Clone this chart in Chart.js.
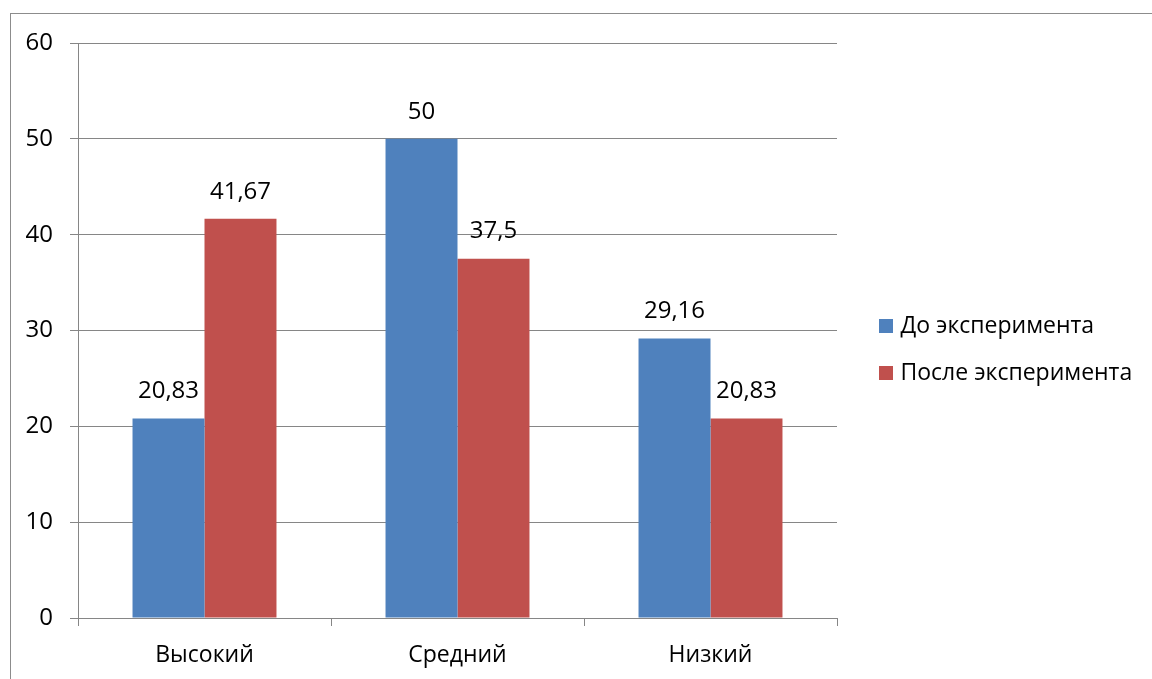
<!DOCTYPE html>
<html>
<head>
<meta charset="utf-8">
<script src="https://cdn.jsdelivr.net/npm/chart.js@4/dist/chart.umd.min.js"></script>
<style>
  html, body { margin: 0; padding: 0; background: #ffffff; }
  #wrap { position: relative; width: 1152px; height: 679px; overflow: hidden; }
  #frame { position: absolute; left: 10px; top: 13px; width: 1200px; height: 700px;
           border-left: 1.5px solid #8c8c8c; border-top: 1.5px solid #8c8c8c; }
  canvas { position: absolute; left: 0; top: 0; }
</style>
</head>
<body>
<div id="wrap">
  <div id="frame"></div>
  <canvas id="c" width="1152" height="679"></canvas>
</div>
<script>
const categories = ['Высокий', 'Средний', 'Низкий'];
const seriesNames = ['До эксперимента', 'После эксперимента'];
const beforeValues = [20.83, 50, 29.16];
const afterValues = [41.67, 37.5, 20.83];
const yTicks = [0, 10, 20, 30, 40, 50, 60];
const seriesColors = ['#4F81BD', '#C0504D'];

const FONT = '"Open Sans", "Noto Sans", sans-serif';
const FS_TEXT = 23;
const FS_NUM = 24;
const GRID = '#868686';
const LEG_PAD = 47 - FS_TEXT;
const BOX = 14;
const PSW = 28;            // legend marker slot width
const MARK_OFF = 18;       // square offset inside slot
const PLOT_RIGHT = 837;

// legend marker images: transparent lead-in, then the coloured square
function makeMarker(color) {
  const w = 2 * (MARK_OFF + BOX - PSW / 2);
  const c = document.createElement('canvas');
  c.width = w; c.height = BOX;
  const g = c.getContext('2d');
  g.fillStyle = color;
  g.fillRect(w - BOX, 0, BOX, BOX);
  return c;
}
const markers = seriesColors.map(makeMarker);

// legend width needed so the plot area keeps its right edge
const mctx = document.createElement('canvas').getContext('2d');
mctx.font = FS_TEXT + 'px ' + FONT;
const maxTextW = Math.max(...seriesNames.map(s => mctx.measureText(s).width));
const legendW = LEG_PAD + PSW + FS_TEXT / 2 + maxTextW + 10;
const padRight = Math.max(0, 1152 - PLOT_RIGHT - legendW);

const valueLabels = {
  id: 'valueLabels',
  afterDatasetsDraw(chart) {
    const ctx = chart.ctx;
    ctx.save();
    ctx.font = FS_NUM + 'px ' + FONT;
    ctx.fillStyle = '#000000';
    ctx.textAlign = 'center';
    ctx.textBaseline = 'middle';
    chart.data.datasets.forEach((ds, di) => {
      const meta = chart.getDatasetMeta(di);
      meta.data.forEach((el, i) => {
        const txt = String(ds.data[i]).replace('.', ',');
        ctx.fillText(txt, el.x, el.y - 27);
      });
    });
    ctx.restore();
  }
};

new Chart(document.getElementById('c'), {
  type: 'bar',
  data: {
    labels: categories,
    datasets: [
      { label: seriesNames[0], data: beforeValues, backgroundColor: seriesColors[0], borderWidth: 0, pointStyle: markers[0] },
      { label: seriesNames[1], data: afterValues, backgroundColor: seriesColors[1], borderWidth: 0, pointStyle: markers[1] }
    ]
  },
  options: {
    responsive: false,
    animation: false,
    devicePixelRatio: 1,
    categoryPercentage: 0.569,
    barPercentage: 1.0,
    layout: { padding: { left: 0, top: 43, right: padRight, bottom: 0 } },
    plugins: {
      legend: {
        position: 'right',
        fullSize: false,
        maxWidth: 600,
        title: { display: true, text: '', font: { size: 10, lineHeight: 1.2 }, padding: 13 },
        labels: {
          usePointStyle: true,
          pointStyleWidth: PSW,
          boxWidth: BOX,
          boxHeight: BOX,
          padding: LEG_PAD,
          color: '#000000',
          font: { family: FONT, size: FS_TEXT }
        }
      },
      tooltip: { enabled: false }
    },
    scales: {
      x: {
        grid: { display: true, drawOnChartArea: false, drawTicks: true, tickLength: 8, color: GRID, lineWidth: 1 },
        border: { display: true, color: GRID, width: 1 },
        ticks: { color: '#000000', padding: 16, font: { family: FONT, size: FS_TEXT } },
        afterFit(scale) { scale.height = 61; }
      },
      y: {
        min: 0, max: 60,
        afterBuildTicks(scale) { scale.ticks = yTicks.map(v => ({ value: v })); },
        grid: { color: GRID, lineWidth: 1, drawTicks: true, tickLength: 8 },
        border: { display: true, color: GRID, width: 1 },
        ticks: { color: '#000000', padding: 17, font: { family: FONT, size: FS_NUM } },
        afterFit(scale) { scale.width = 78; }
      }
    }
  },
  plugins: [valueLabels]
});
</script>
</body>
</html>
